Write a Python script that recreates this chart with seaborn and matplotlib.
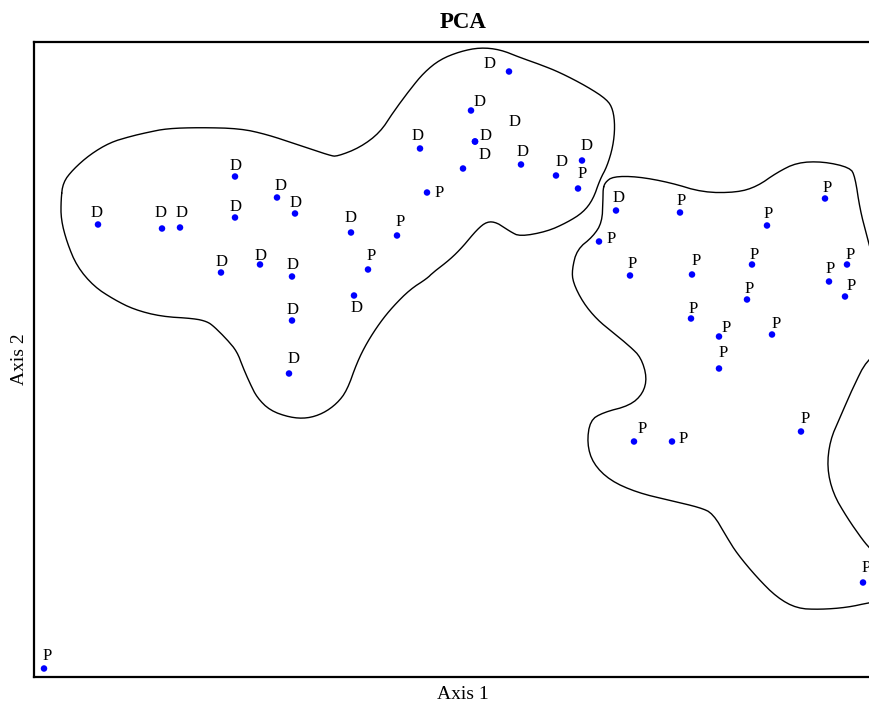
import numpy as np
import pandas as pd
import matplotlib
matplotlib.use("Agg")
import matplotlib.pyplot as plt
import seaborn as sns

# PCA scores
pc1 = [-3.65, -3.01, -2.83, -2.28, -2.28, -1.86, -1.68, -2.42, -2.03, -1.71,
       -1.71, -1.74, -1.12, -1.09, -0.43, 0.46, 0.08, 0.12, 0.00, 0.58,
       0.93, 1.19, 0.12, 1.53,
       1.15, -0.36, -0.66, -0.95, 2.17, 3.04, 3.62, 1.36, 1.67, 2.29,
       2.89, 3.84, 3.66, 3.82, 2.84, 2.28, 2.56, 3.09, 2.56, 1.71,
       2.09, 3.38, 4.00, -4.19]
pc2 = [1.35, 1.31, 1.32, 1.83, 1.42, 1.62, 1.46, 0.87, 0.95, 0.83,
       0.39, -0.14, 1.27, 0.64, 2.11, 2.88, 2.49, 2.18, 1.91, 1.95,
       1.84, 1.99, 2.18, 1.49,
       1.71, 1.67, 1.24, 0.90, 1.47, 1.34, 1.61, 1.18, 0.84, 0.85,
       0.95, 0.95, 0.78, 0.63, 0.60, 0.41, 0.23, 0.25, -0.09, -0.82,
       -0.82, -0.72, -2.23, -3.09]
group = ["D"] * 24 + ["P"] * 24

# where each letter sits (repelled labels)
label_x = [-3.66, -3.02, -2.81, -2.27, -2.27, -1.82, -1.67, -2.41, -2.02, -1.70,
           -1.70, -1.69, -1.12, -1.06, -0.45, 0.27, 0.17, 0.23, 0.22, 0.60,
           0.99, 1.24, 0.52, 1.56,
           1.19, -0.24, -0.63, -0.92, 2.18, 3.05, 3.64, 1.48, 1.69, 2.33,
           2.91, 3.87, 3.67, 3.88, 2.86, 2.30, 2.63, 3.13, 2.60, 1.79,
           2.20, 3.42, 4.03, -4.16]
label_y = [1.47, 1.47, 1.47, 1.94, 1.53, 1.74, 1.57, 0.98, 1.04, 0.95,
           0.50, 0.01, 1.42, 0.52, 2.23, 2.95, 2.57, 2.23, 2.05, 2.08,
           1.97, 2.13, 2.38, 1.62,
           1.85, 1.67, 1.38, 1.04, 1.59, 1.46, 1.71, 1.21, 0.96, 0.99,
           1.05, 1.05, 0.91, 0.74, 0.71, 0.51, 0.32, 0.36, 0.07, -0.69,
           -0.79, -0.59, -2.09, -2.96]

# hand-drawn outlines around the two groups
hull_d_x = [-4.02, -4.00, -3.90, -3.73, -3.53, -3.33, -3.16, -2.96, -2.63, -2.23,
            -1.96, -1.66, -1.33, -1.26, -1.03, -0.83, -0.70, -0.53, -0.39, -0.23,
            -0.03, 0.17, 0.37, 0.57, 0.77, 0.97, 1.24, 1.44, 1.50, 1.52,
            1.50, 1.44, 1.37, 1.30, 1.20, 1.04, 0.84, 0.57, 0.47, 0.34,
            0.24, 0.14, 0.00, -0.13, -0.30, -0.36, -0.53, -0.70, -0.83, -0.96,
            -1.06, -1.16, -1.26, -1.40, -1.56, -1.73, -1.93, -2.06, -2.13, -2.20,
            -2.26, -2.36, -2.49, -2.56, -2.69, -3.02, -3.29, -3.49, -3.69, -3.86,
            -3.96, -4.02, -4.02]
hull_d_y = [1.60, 1.77, 1.90, 2.05, 2.17, 2.23, 2.27, 2.31, 2.32, 2.31,
            2.25, 2.15, 2.04, 2.03, 2.12, 2.27, 2.47, 2.70, 2.87, 3.00,
            3.08, 3.12, 3.10, 3.02, 2.95, 2.87, 2.73, 2.60, 2.50, 2.33,
            2.13, 1.93, 1.80, 1.60, 1.47, 1.37, 1.28, 1.23, 1.28, 1.37,
            1.38, 1.30, 1.13, 1.00, 0.87, 0.81, 0.70, 0.53, 0.37, 0.17,
            -0.03, -0.31, -0.44, -0.54, -0.59, -0.58, -0.51, -0.38, -0.24, -0.08,
            0.08, 0.20, 0.33, 0.38, 0.41, 0.43, 0.50, 0.60, 0.73, 0.93,
            1.17, 1.40, 1.60]
hull_p_x = [1.40, 1.42, 1.50, 1.74, 2.07, 2.40, 2.74, 2.94, 3.14, 3.34,
            3.60, 3.87, 3.92, 3.97, 4.04, 4.08, 4.22, 4.22, 4.04, 3.90,
            3.77, 3.67, 3.64, 3.70, 3.84, 4.00, 4.08, 4.22, 4.22, 4.07,
            3.84, 3.57, 3.34, 3.14, 2.94, 2.74, 2.64, 2.50, 2.37, 2.07,
            1.74, 1.47, 1.30, 1.24, 1.27, 1.40, 1.67, 1.80, 1.84, 1.78,
            1.67, 1.50, 1.34, 1.20, 1.10, 1.09, 1.14, 1.30, 1.39, 1.40,
            1.40]
hull_p_y = [1.70, 1.77, 1.83, 1.83, 1.77, 1.67, 1.67, 1.73, 1.87, 1.97,
            1.98, 1.92, 1.83, 1.50, 1.23, 1.08, 0.90, 0.10, 0.00, -0.28,
            -0.58, -0.81, -1.08, -1.34, -1.58, -1.81, -1.90, -2.06, -2.41, -2.43,
            -2.48, -2.50, -2.49, -2.38, -2.18, -1.94, -1.78, -1.54, -1.48, -1.41,
            -1.33, -1.21, -1.04, -0.84, -0.61, -0.53, -0.46, -0.34, -0.18, 0.02,
            0.13, 0.27, 0.40, 0.57, 0.77, 0.90, 1.10, 1.23, 1.37, 1.60,
            1.70]


def chaikin(xs, ys, n=2):
    # round off the corners of a closed outline
    pts = np.column_stack([xs, ys])
    for _ in range(n):
        nxt = np.roll(pts, -1, axis=0)
        q = 0.75 * pts + 0.25 * nxt
        r = 0.25 * pts + 0.75 * nxt
        pts = np.empty((2 * len(q), 2))
        pts[0::2] = q
        pts[1::2] = r
    pts = np.vstack([pts, pts[:1]])
    return pts[:, 0], pts[:, 1]


df = pd.DataFrame({"Axis 1": pc1, "Axis 2": pc2, "group": group,
                   "lx": label_x, "ly": label_y})

sns.set_theme(style="white")
plt.rcParams["font.family"] = ["Liberation Serif", "DejaVu Serif"]
plt.rcParams["text.color"] = "black"
plt.rcParams["axes.labelcolor"] = "black"

fig = plt.figure(figsize=(8.7, 7.04), dpi=100)
# the right side of the frame runs off the picture, as in the original
ax = fig.add_axes([34 / 870, 27 / 704, 858 / 870, 635 / 704])

for hx, hy in [(hull_d_x, hull_d_y), (hull_p_x, hull_p_y)]:
    sx, sy = chaikin(hx[:-1], hy[:-1])
    ax.plot(sx, sy, color="black", lw=1.0)

sns.scatterplot(data=df, x="Axis 1", y="Axis 2", color="#0000ff", s=22,
                edgecolor="none", legend=False, ax=ax, zorder=3)

for _, row in df.iterrows():
    ax.text(row["lx"], row["ly"], row["group"], ha="center", va="center",
            fontsize=12, color="black")

ax.set_xlim(-4.29, 4.29)
ax.set_ylim(-3.175, 3.175)
ax.set_xticks([])
ax.set_yticks([])
for sp in ax.spines.values():
    sp.set_color("black")
    sp.set_linewidth(1.6)

ax.set_title("PCA", fontsize=16.5, fontweight="bold", pad=10, color="black")
ax.set_xlabel("Axis 1", fontsize=14, labelpad=6.5)
ax.set_ylabel("Axis 2", fontsize=14, labelpad=4)

fig.savefig("out.png", dpi=100)
